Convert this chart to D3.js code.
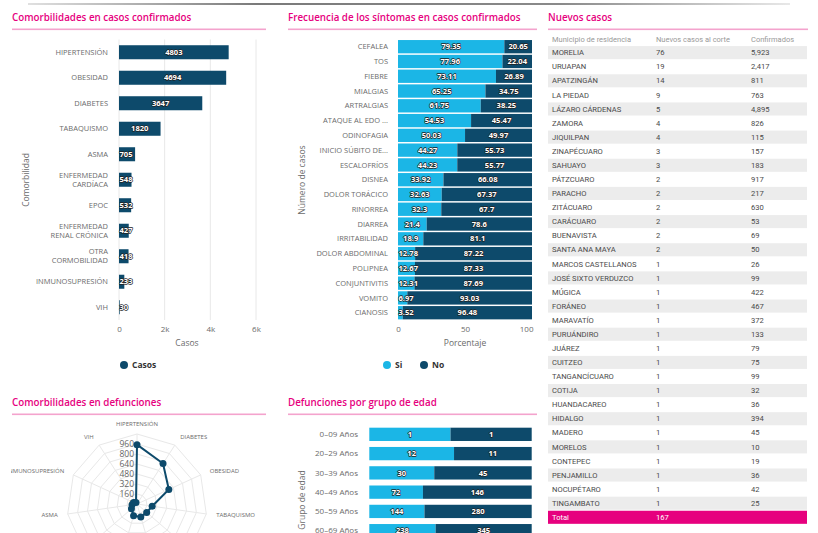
<!DOCTYPE html>
<html>
<head>
<meta charset="utf-8">
<script src="https://cdn.jsdelivr.net/npm/d3@7"></script>
<style>
body { margin: 0; background: #fff; }
svg text { font-family: "Open Sans", sans-serif; }
.tbl text { font-family: Roboto, sans-serif; }
</style>
</head>
<body>
<div id="chart"></div>
<script>
// Comorbilidades en casos confirmados
const comorbidities = ['HIPERTENSIÓN', 'OBESIDAD', 'DIABETES', 'TABAQUISMO', 'ASMA', 'ENFERMEDAD\nCARDÍACA', 'EPOC', 'ENFERMEDAD\nRENAL CRÓNICA', 'OTRA\nCORMOBILIDAD', 'INMUNOSUPRESIÓN', 'VIH'];
const comorbidityCases = [4803, 4694, 3647, 1820, 705, 548, 532, 427, 418, 233, 30];

// Frecuencia de los síntomas
const symptoms = ['CEFALEA', 'TOS', 'FIEBRE', 'MIALGIAS', 'ARTRALGIAS', 'ATAQUE AL EDO ...', 'ODINOFAGIA', 'INICIO SÚBITO DE...', 'ESCALOFRÍOS', 'DISNEA', 'DOLOR TORÁCICO', 'RINORREA', 'DIARREA', 'IRRITABILIDAD', 'DOLOR ABDOMINAL', 'POLIPNEA', 'CONJUNTIVITIS', 'VOMITO', 'CIANOSIS'];
const symptomSi = [79.35, 77.96, 73.11, 65.25, 61.75, 54.53, 50.03, 44.27, 44.23, 33.92, 32.63, 32.3, 21.4, 18.9, 12.78, 12.67, 12.31, 6.97, 3.52];
const symptomNo = [20.65, 22.04, 26.89, 34.75, 38.25, 45.47, 49.97, 55.73, 55.77, 66.08, 67.37, 67.7, 78.6, 81.1, 87.22, 87.33, 87.69, 93.03, 96.48];

// Comorbilidades en defunciones (radar)
const radarCategories = ['HIPERTENSIÓN', 'DIABETES', 'OBESIDAD', 'TABAQUISMO', 'EPOC', 'ENFERMEDAD CARDÍACA', 'ENFERMEDAD RENAL CRÓNICA', 'OTRA CORMOBILIDAD', 'ASMA', 'INMUNOSUPRESIÓN', 'VIH'];
const radarDeaths = [950, 770, 560, 245, 205, 215, 195, 118, 80, 60, 30];
const radarTicks = [0, 160, 320, 480, 640, 800, 960];

// Defunciones por grupo de edad
const ageGroups = ['0–09 Años', '20–29 Años', '30–39 Años', '40–49 Años', '50–59 Años', '60–69 Años'];
const ageSerieA = [1, 12, 30, 72, 144, 238];
const ageSerieB = [1, 11, 45, 146, 280, 345];

// Nuevos casos
const tableHeader = ['Municipio de residencia', 'Nuevos casos al corte', 'Confirmados'];
const municipios = ['MORELIA', 'URUAPAN', 'APATZINGÁN', 'LA PIEDAD', 'LÁZARO CÁRDENAS', 'ZAMORA', 'JIQUILPAN', 'ZINAPÉCUARO', 'SAHUAYO', 'PÁTZCUARO', 'PARACHO', 'ZITÁCUARO', 'CARÁCUARO', 'BUENAVISTA', 'SANTA ANA MAYA', 'MARCOS CASTELLANOS', 'JOSÉ SIXTO VERDUZCO', 'MÚGICA', 'FORÁNEO', 'MARAVATÍO', 'PURUÁNDIRO', 'JUÁREZ', 'CUITZEO', 'TANGANCÍCUARO', 'COTIJA', 'HUANDACAREO', 'HIDALGO', 'MADERO', 'MORELOS', 'CONTEPEC', 'PENJAMILLO', 'NOCUPÉTARO', 'TINGAMBATO'];
const nuevosCasos = [76, 19, 14, 9, 5, 4, 4, 3, 3, 2, 2, 2, 2, 2, 2, 1, 1, 1, 1, 1, 1, 1, 1, 1, 1, 1, 1, 1, 1, 1, 1, 1, 1];
const confirmados = [5923, 2417, 811, 763, 4895, 826, 115, 157, 183, 917, 217, 630, 53, 69, 50, 26, 99, 422, 467, 372, 133, 79, 75, 99, 32, 36, 394, 45, 10, 19, 36, 42, 25];
const totalNuevos = 167;

const width = 818;
const height = 533;
const dark = '#0d4a6b';
const cyan = '#1bb6e6';
const pink = '#e6007e';
const gridColor = '#e8e8e8';
const labelColor = '#6b6b6b';

const svg = d3.select('#chart').append('svg')
  .attr('width', width)
  .attr('height', height);

// top separator line
const defs = svg.append('defs');
const grad = defs.append('linearGradient').attr('id', 'topline');
grad.append('stop').attr('offset', '0%').attr('stop-color', '#e0e0e0');
grad.append('stop').attr('offset', '30%').attr('stop-color', '#7a7a7a');
grad.append('stop').attr('offset', '70%').attr('stop-color', '#8a8a8a');
grad.append('stop').attr('offset', '100%').attr('stop-color', '#e8e8e8');
svg.append('rect').attr('x', 28).attr('y', 3).attr('width', 762).attr('height', 2).attr('fill', 'url(#topline)');

function panelTitle(x, y, w, text) {
  svg.append('text').attr('x', x).attr('y', y).text(text)
    .attr('fill', pink).attr('font-size', 9.8).attr('font-weight', 600);
  svg.append('rect').attr('x', x).attr('y', y + 7.5).attr('width', w).attr('height', 1.6).attr('fill', '#f4a3cd');
}

function outlined(sel) {
  sel.attr('fill', '#fff').attr('stroke', '#222').attr('stroke-width', 1.3)
    .attr('stroke-linejoin', 'round').attr('paint-order', 'stroke')
    .attr('font-weight', 700).attr('font-size', 7.6);
}

panelTitle(12, 21, 254, 'Comorbilidades en casos confirmados');
panelTitle(288, 21, 249, 'Frecuencia de los síntomas en casos confirmados');
panelTitle(548, 21, 260, 'Nuevos casos');
panelTitle(12, 406, 254, 'Comorbilidades en defunciones');
panelTitle(288, 406, 249, 'Defunciones por grupo de edad');

// ---------- Chart 1: comorbilidades ----------
const x1 = d3.scaleLinear().domain([0, 6000]).range([119, 256]);
const y1 = d3.scaleBand().domain(comorbidities).range([39.5, 320]).paddingInner(0.45).paddingOuter(0.225);
const g1 = svg.append('g');

g1.selectAll('.grid').data(x1.ticks(3)).enter().append('line')
  .attr('x1', d => x1(d)).attr('x2', d => x1(d))
  .attr('y1', 39.5).attr('y2', 320)
  .attr('stroke', gridColor);

g1.selectAll('.bar').data(comorbidities).enter().append('rect')
  .attr('x', x1(0))
  .attr('y', d => y1(d))
  .attr('width', (d, i) => x1(comorbidityCases[i]) - x1(0))
  .attr('height', y1.bandwidth())
  .attr('fill', dark);

g1.selectAll('.val').data(comorbidities).enter().append('text')
  .attr('x', (d, i) => {
    const w = x1(comorbidityCases[i]) - x1(0);
    return w > 40 ? x1(0) + w / 2 : x1(0) + 0.5;
  })
  .attr('text-anchor', (d, i) => (x1(comorbidityCases[i]) - x1(0) > 40 ? 'middle' : 'start'))
  .attr('y', d => y1(d) + y1.bandwidth() / 2)
  .attr('dy', '0.35em')
  .text((d, i) => comorbidityCases[i])
  .call(outlined);

const cat1 = g1.selectAll('.cat').data(comorbidities).enter().append('text')
  .attr('x', 108)
  .attr('text-anchor', 'end')
  .attr('font-size', 7.5)
  .attr('fill', labelColor)
  .attr('y', d => y1(d) + y1.bandwidth() / 2);
cat1.each(function (d) {
  const lines = d.split('\n');
  const t = d3.select(this);
  lines.forEach((line, k) => {
    t.append('tspan').attr('x', 108)
      .attr('dy', k === 0 ? (0.35 - (lines.length - 1) * 0.6) + 'em' : '1.2em')
      .text(line);
  });
});

const ax1 = g1.append('g').attr('transform', 'translate(0,323)')
  .call(d3.axisBottom(x1).ticks(3).tickSize(0).tickFormat(d => d === 0 ? '0' : d / 1000 + 'k'));
ax1.select('.domain').remove();
ax1.selectAll('text').attr('fill', labelColor).attr('font-size', 8).attr('font-family', '"Open Sans", sans-serif');

g1.append('text').attr('x', 187).attr('y', 346).attr('text-anchor', 'middle')
  .attr('font-size', 8.5).attr('fill', labelColor).text('Casos');
g1.append('text').attr('transform', 'translate(29,180) rotate(-90)').attr('text-anchor', 'middle')
  .attr('font-size', 8.5).attr('fill', labelColor).text('Comorbilidad');
g1.append('circle').attr('cx', 124).attr('cy', 365).attr('r', 4).attr('fill', dark);
g1.append('text').attr('x', 132).attr('y', 365).attr('dy', '0.35em')
  .attr('font-size', 8.5).attr('font-weight', 700).attr('fill', '#333').text('Casos');

// ---------- Chart 2: síntomas ----------
const symptomRows = symptoms.map((s, i) => ({ name: s, Si: symptomSi[i], No: symptomNo[i] }));
const stack2 = d3.stack().keys(['Si', 'No'])(symptomRows);
const x2 = d3.scaleLinear().domain([0, 100]).range([398, 532]);
const y2 = d3.scaleBand().domain(symptoms).range([39.3, 320.1]).paddingInner(0.1).paddingOuter(0.05);
const g2 = svg.append('g');
const colors2 = { Si: cyan, No: dark };

stack2.forEach(layer => {
  g2.selectAll('.b' + layer.key).data(layer).enter().append('rect')
    .attr('x', d => x2(d[0]))
    .attr('y', d => y2(d.data.name))
    .attr('width', d => x2(d[1]) - x2(d[0]))
    .attr('height', y2.bandwidth())
    .attr('fill', colors2[layer.key]);
});
stack2.forEach(layer => {
  g2.selectAll('.t' + layer.key).data(layer).enter().append('text')
    .attr('x', d => {
      const w = x2(d[1]) - x2(d[0]);
      return w > 24 ? (x2(d[0]) + x2(d[1])) / 2 : x2(d[0]) + 0.5;
    })
    .attr('text-anchor', d => (x2(d[1]) - x2(d[0]) > 24 ? 'middle' : 'start'))
    .attr('y', d => y2(d.data.name) + y2.bandwidth() / 2)
    .attr('dy', '0.35em')
    .text(d => d.data[layer.key])
    .call(outlined);
});

g2.selectAll('.cat').data(symptoms).enter().append('text')
  .attr('x', 388).attr('text-anchor', 'end')
  .attr('y', d => y2(d) + y2.bandwidth() / 2).attr('dy', '0.35em')
  .attr('font-size', 7.5).attr('fill', labelColor)
  .text(d => d);

const ax2 = g2.append('g').attr('transform', 'translate(0,323)')
  .call(d3.axisBottom(x2).ticks(2).tickSize(0));
ax2.select('.domain').remove();
ax2.selectAll('text').attr('fill', labelColor).attr('font-size', 8).attr('font-family', '"Open Sans", sans-serif');
ax2.selectAll('.tick').filter(d => d === 100).select('text').attr('text-anchor', 'end').attr('x', 1);

g2.append('text').attr('x', 465).attr('y', 346).attr('text-anchor', 'middle')
  .attr('font-size', 8.5).attr('fill', labelColor).text('Porcentaje');
g2.append('text').attr('transform', 'translate(305,180) rotate(-90)').attr('text-anchor', 'middle')
  .attr('font-size', 8.5).attr('fill', labelColor).text('Número de casos');
g2.append('circle').attr('cx', 387).attr('cy', 365).attr('r', 4).attr('fill', cyan);
g2.append('text').attr('x', 395).attr('y', 365).attr('dy', '0.35em')
  .attr('font-size', 8.5).attr('font-weight', 700).attr('fill', '#333').text('Si');
g2.append('circle').attr('cx', 424).attr('cy', 365).attr('r', 4).attr('fill', dark);
g2.append('text').attr('x', 432).attr('y', 365).attr('dy', '0.35em')
  .attr('font-size', 8.5).attr('font-weight', 700).attr('fill', '#333').text('No');

// ---------- Chart 3: tabla ----------
const tbl = svg.append('g').attr('class', 'tbl');
const rowY = d3.scaleBand().domain(d3.range(municipios.length + 1)).range([45.6, 45.6 + 14.08 * (municipios.length + 1)]);
const colX = [552, 656, 751];

tbl.selectAll('.hdr').data(tableHeader).enter().append('text')
  .attr('x', (d, i) => colX[i]).attr('y', 39).attr('dy', '0.35em')
  .attr('font-size', 7.5).attr('fill', '#999').text(d => d);

tbl.selectAll('.stripe').data(municipios.filter((d, i) => i % 2 === 0)).enter().append('rect')
  .attr('x', 548).attr('width', 259)
  .attr('y', d => rowY(municipios.indexOf(d)) + 0.5)
  .attr('height', rowY.bandwidth() - 1)
  .attr('fill', '#ececec');

const rows = tbl.selectAll('.row').data(municipios).enter().append('g')
  .attr('transform', (d, i) => `translate(0,${rowY(i) + rowY.bandwidth() / 2})`);
rows.append('text').attr('x', colX[0]).attr('dy', '0.35em').attr('font-size', 7.6).attr('fill', '#4a4a4a').text(d => d);
rows.append('text').attr('x', colX[1]).attr('dy', '0.35em').attr('font-size', 7.6).attr('fill', '#4a4a4a').text((d, i) => nuevosCasos[i]);
rows.append('text').attr('x', colX[2]).attr('dy', '0.35em').attr('font-size', 7.6).attr('fill', '#4a4a4a').text((d, i) => d3.format(',')(confirmados[i]));

const totalIdx = municipios.length;
tbl.append('rect').attr('x', 548).attr('width', 259)
  .attr('y', rowY(totalIdx) + 0.5).attr('height', rowY.bandwidth() - 1).attr('fill', pink);
tbl.append('text').attr('x', colX[0]).attr('y', rowY(totalIdx) + rowY.bandwidth() / 2).attr('dy', '0.35em')
  .attr('font-size', 7.6).attr('fill', '#fff').text('Total');
tbl.append('text').attr('x', colX[1]).attr('y', rowY(totalIdx) + rowY.bandwidth() / 2).attr('dy', '0.35em')
  .attr('font-size', 7.6).attr('fill', '#fff').text(totalNuevos);

// ---------- Chart 4: radar ----------
defs.append('clipPath').attr('id', 'radarClip').append('rect')
  .attr('x', 11).attr('y', 415).attr('width', 260).attr('height', 120);
const g4 = svg.append('g').attr('clip-path', 'url(#radarClip)');
const cx = 137, cy = 504;
const r4 = d3.scaleLinear().domain([0, 1120]).range([0, 70]);
const n4 = radarCategories.length;
const ang = i => i * 2 * Math.PI / n4;
const pt = (i, v) => [cx + r4(v) * Math.sin(ang(i)), cy - r4(v) * Math.cos(ang(i))];

const rings = d3.range(160, 1121, 160);
g4.selectAll('.ring').data(rings).enter().append('polygon')
  .attr('points', v => radarCategories.map((c, i) => pt(i, v).join(',')).join(' '))
  .attr('fill', 'none').attr('stroke', gridColor).attr('stroke-width', 1);
g4.selectAll('.spoke').data(radarCategories).enter().append('line')
  .attr('x1', cx).attr('y1', cy)
  .attr('x2', (d, i) => pt(i, 1120)[0]).attr('y2', (d, i) => pt(i, 1120)[1])
  .attr('stroke', gridColor);

g4.selectAll('.rlab').data(radarCategories).enter().append('text')
  .attr('x', (d, i) => cx + 80 * Math.sin(ang(i)))
  .attr('y', (d, i) => cy - 80 * Math.cos(ang(i)))
  .attr('dy', '0.35em')
  .attr('text-anchor', (d, i) => {
    const s = Math.sin(ang(i));
    return Math.abs(s) < 0.2 ? 'middle' : (s > 0 ? 'start' : 'end');
  })
  .attr('font-size', 6).attr('fill', labelColor)
  .text(d => d);

const line4 = d3.line().curve(d3.curveLinearClosed);
g4.append('path')
  .attr('d', line4(radarDeaths.map((v, i) => pt(i, v))))
  .attr('fill', 'none').attr('stroke', dark).attr('stroke-width', 2);

g4.selectAll('.tickLab').data(radarTicks).enter().append('text')
  .attr('x', cx - 3).attr('y', d => cy - r4(d)).attr('dy', '0.35em')
  .attr('text-anchor', 'end').attr('font-size', 8.5).attr('fill', '#666')
  .text(d => d);

g4.selectAll('.mark').data(radarDeaths).enter().append('circle')
  .attr('cx', (d, i) => pt(i, d)[0]).attr('cy', (d, i) => pt(i, d)[1])
  .attr('r', 3.5).attr('fill', dark);

// ---------- Chart 5: defunciones por edad ----------
const ageRows = ageGroups.map((a, i) => ({ name: a, A: ageSerieA[i], B: ageSerieB[i] }));
const stack5 = d3.stack().keys(['A', 'B']).offset(d3.stackOffsetExpand)(ageRows);
const x5 = d3.scaleLinear().domain([0, 1]).range([369.3, 531.7]);
const y5 = d3.scaleBand().domain(ageGroups).range([424.7, 424.7 + 19.27 * ageGroups.length]).paddingInner(0.31).paddingOuter(0.155);
const g5 = svg.append('g');
const colors5 = { A: cyan, B: dark };

stack5.forEach(layer => {
  g5.selectAll('.b' + layer.key).data(layer).enter().append('rect')
    .attr('x', d => x5(d[0]))
    .attr('y', d => y5(d.data.name))
    .attr('width', d => x5(d[1]) - x5(d[0]))
    .attr('height', y5.bandwidth())
    .attr('fill', colors5[layer.key]);
});
stack5.forEach(layer => {
  g5.selectAll('.t' + layer.key).data(layer).enter().append('text')
    .attr('x', d => (x5(d[0]) + x5(d[1])) / 2)
    .attr('text-anchor', 'middle')
    .attr('y', d => y5(d.data.name) + y5.bandwidth() / 2)
    .attr('dy', '0.35em')
    .text(d => d.data[layer.key])
    .call(outlined);
});

g5.selectAll('.cat').data(ageGroups).enter().append('text')
  .attr('x', 358).attr('text-anchor', 'end')
  .attr('y', d => y5(d) + y5.bandwidth() / 2).attr('dy', '0.35em')
  .attr('font-size', 8).attr('fill', labelColor)
  .text(d => d);

g5.append('text').attr('transform', 'translate(305,500) rotate(-90)').attr('text-anchor', 'middle')
  .attr('font-size', 8.5).attr('fill', labelColor).text('Grupo de edad');
</script>
</body>
</html>
